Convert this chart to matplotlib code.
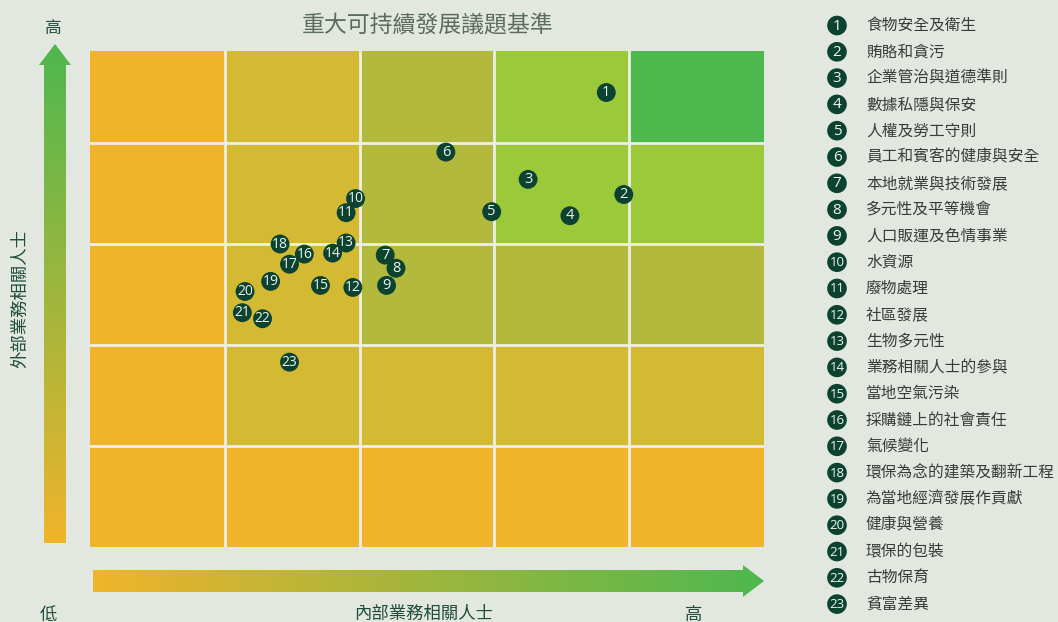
import numpy as np
import matplotlib
matplotlib.use("Agg")
import matplotlib.pyplot as plt
from matplotlib.patches import Rectangle, Polygon
from matplotlib.colors import LinearSegmentedColormap

plt.rcParams['font.family'] = ['Noto Sans CJK TC', 'DejaVu Sans']

# ---- data -------------------------------------------------------------
issue_names = [
    "食物安全及衛生", "賄賂和貪污", "企業管治與道德準則", "數據私隱與保安",
    "人權及勞工守則", "員工和賓客的健康與安全", "本地就業與技術發展",
    "多元性及平等機會", "人口販運及色情事業", "水資源", "廢物處理", "社區發展",
    "生物多元性", "業務相關人士的參與", "當地空氣污染", "採購鏈上的社會責任",
    "氣候變化", "環保為念的建築及翻新工程", "為當地經濟發展作貢獻", "健康與營養",
    "環保的包裝", "古物保育", "貧富差異",
]
# internal stakeholder relevance (x) and external stakeholder relevance (y)
internal_score = [3.83, 3.96, 3.25, 3.56, 2.98, 2.64, 2.19, 2.27, 2.20, 1.97, 1.90, 1.95,
                  1.90, 1.80, 1.71, 1.59, 1.48, 1.41, 1.34, 1.15, 1.13, 1.28, 1.48]
external_score = [4.50, 3.49, 3.64, 3.28, 3.32, 3.91, 2.89, 2.76, 2.59, 3.45, 3.31, 2.57,
                   3.01, 2.91, 2.59, 2.90, 2.80, 3.00, 2.63, 2.53, 2.32, 2.26, 1.83]

# materiality level of each cell, rows listed from bottom to top
cell_levels = [
    [0, 0, 0, 0, 0],
    [0, 1, 1, 1, 1],
    [0, 1, 2, 2, 2],
    [0, 1, 2, 3, 3],
    [0, 1, 2, 3, 4],
]
level_colors = ["#F0B42C", "#D4BA32", "#B2B93C", "#9BC93A", "#4CB84E"]

title = "重大可持續發展議題基準"
x_label = "內部業務相關人士"
y_label = "外部業務相關人士"
low_label, high_label = "低", "高"

# ---- figure ----------------------------------------------------------
W, H = 1058, 622
BG = "#E2E8E0"
DARK = "#0B4330"
LABEL_GREEN = "#1F4D3A"

fig = plt.figure(figsize=(W / 100, H / 100), dpi=100, facecolor=BG)

# overlay in pixel units for arrows, captions and legend
over = fig.add_axes([0, 0, 1, 1], zorder=0)
over.set_xlim(0, W)
over.set_ylim(H, 0)
over.axis("off")
over.patch.set_alpha(0)

# matrix axes; the top row is cut short by the frame
gx0, gx1, gy0, gy1 = 90, 764, 51, 547
row_px = 101.0
ax = fig.add_axes([gx0 / W, (H - gy1) / H, (gx1 - gx0) / W, (gy1 - gy0) / H], zorder=1)
ax.set_xlim(0, 5)
ax.set_ylim(0, (gy1 - gy0) / row_px)
ax.axis("off")

for r, row in enumerate(cell_levels):
    for c, lvl in enumerate(row):
        ax.add_patch(Rectangle((c, r), 1, 1, facecolor=level_colors[lvl], edgecolor="none", zorder=1))
for k in range(1, 5):
    ax.axvline(k, color="#ECEFE8", lw=2.0, zorder=2)
    ax.axhline(k, color="#ECEFE8", lw=2.0, zorder=2)

# issues drawn so that the listed ones sit above their neighbours
front = {10, 13, 16, 8, 22}
for i, (x, y) in enumerate(zip(internal_score, external_score)):
    n = i + 1
    z = 5 if n in front else 4
    ax.scatter([x], [y], s=185, color=DARK, edgecolors="none", zorder=z)
    ax.text(x, y, str(n), ha="center", va="center", color="#EEF3EE",
            fontsize=10.5 if n < 10 else 10, family=["Open Sans", "DejaVu Sans"],
            zorder=z + 0.5)

# gradient arrows
orange = np.array([240, 180, 43]) / 255
green = np.array([77, 184, 79]) / 255
grad_cmap = LinearSegmentedColormap.from_list("og", [orange, green])

def gradient_arrow(verts, extent, vertical):
    poly = Polygon(verts, closed=True, facecolor="none", edgecolor="none")
    over.add_patch(poly)
    g = np.linspace(0, 1, 256)
    if vertical:
        img = np.repeat(g[::-1][:, None], 2, axis=1)
    else:
        img = np.repeat(g[None, :], 2, axis=0)
    im = over.imshow(img, cmap=grad_cmap, extent=extent, aspect="auto",
                     interpolation="bilinear", origin="upper", zorder=1)
    im.set_clip_path(poly)

# vertical arrow (external), tip at top
gradient_arrow([(44, 543), (44, 65), (39, 65), (55, 44), (71, 65), (66, 65), (66, 543)],
               extent=(39, 71, 543, 44), vertical=True)
# horizontal arrow (internal), tip at right
gradient_arrow([(93, 570), (743, 570), (743, 565), (764, 581), (743, 597), (743, 592), (93, 592)],
               extent=(93, 764, 597, 565), vertical=False)

# captions
over.text(428, 26, title, ha="center", va="center", fontsize=16.5, color="#5B6B60")
over.text(53, 28, high_label, ha="center", va="center", fontsize=12, color=LABEL_GREEN)
over.text(48, 615, low_label, ha="center", va="center", fontsize=12.5, color=LABEL_GREEN)
over.text(694, 615, high_label, ha="center", va="center", fontsize=12.5, color=LABEL_GREEN)
over.text(424, 614, x_label, ha="center", va="center", fontsize=12.5, color=LABEL_GREEN)
over.text(20, 298, y_label, ha="center", va="center", rotation=90, fontsize=12.5, color=LABEL_GREEN)

# legend
ly0, ldy = 25.5, 26.3
for i, name in enumerate(issue_names):
    n = i + 1
    y = ly0 + i * ldy
    over.scatter([837], [y], s=200, color=DARK, edgecolors="none", zorder=3)
    over.text(837, y + 0.5, str(n), ha="center", va="center", color="#F2F5F2",
              fontsize=11 if n < 10 else 9.5, family=["Open Sans", "DejaVu Sans"], zorder=4)
    over.text(866, y, name, ha="left", va="center", fontsize=11.3, color="#3A3A3A")

fig.savefig("out.png", dpi=100, facecolor=BG)
